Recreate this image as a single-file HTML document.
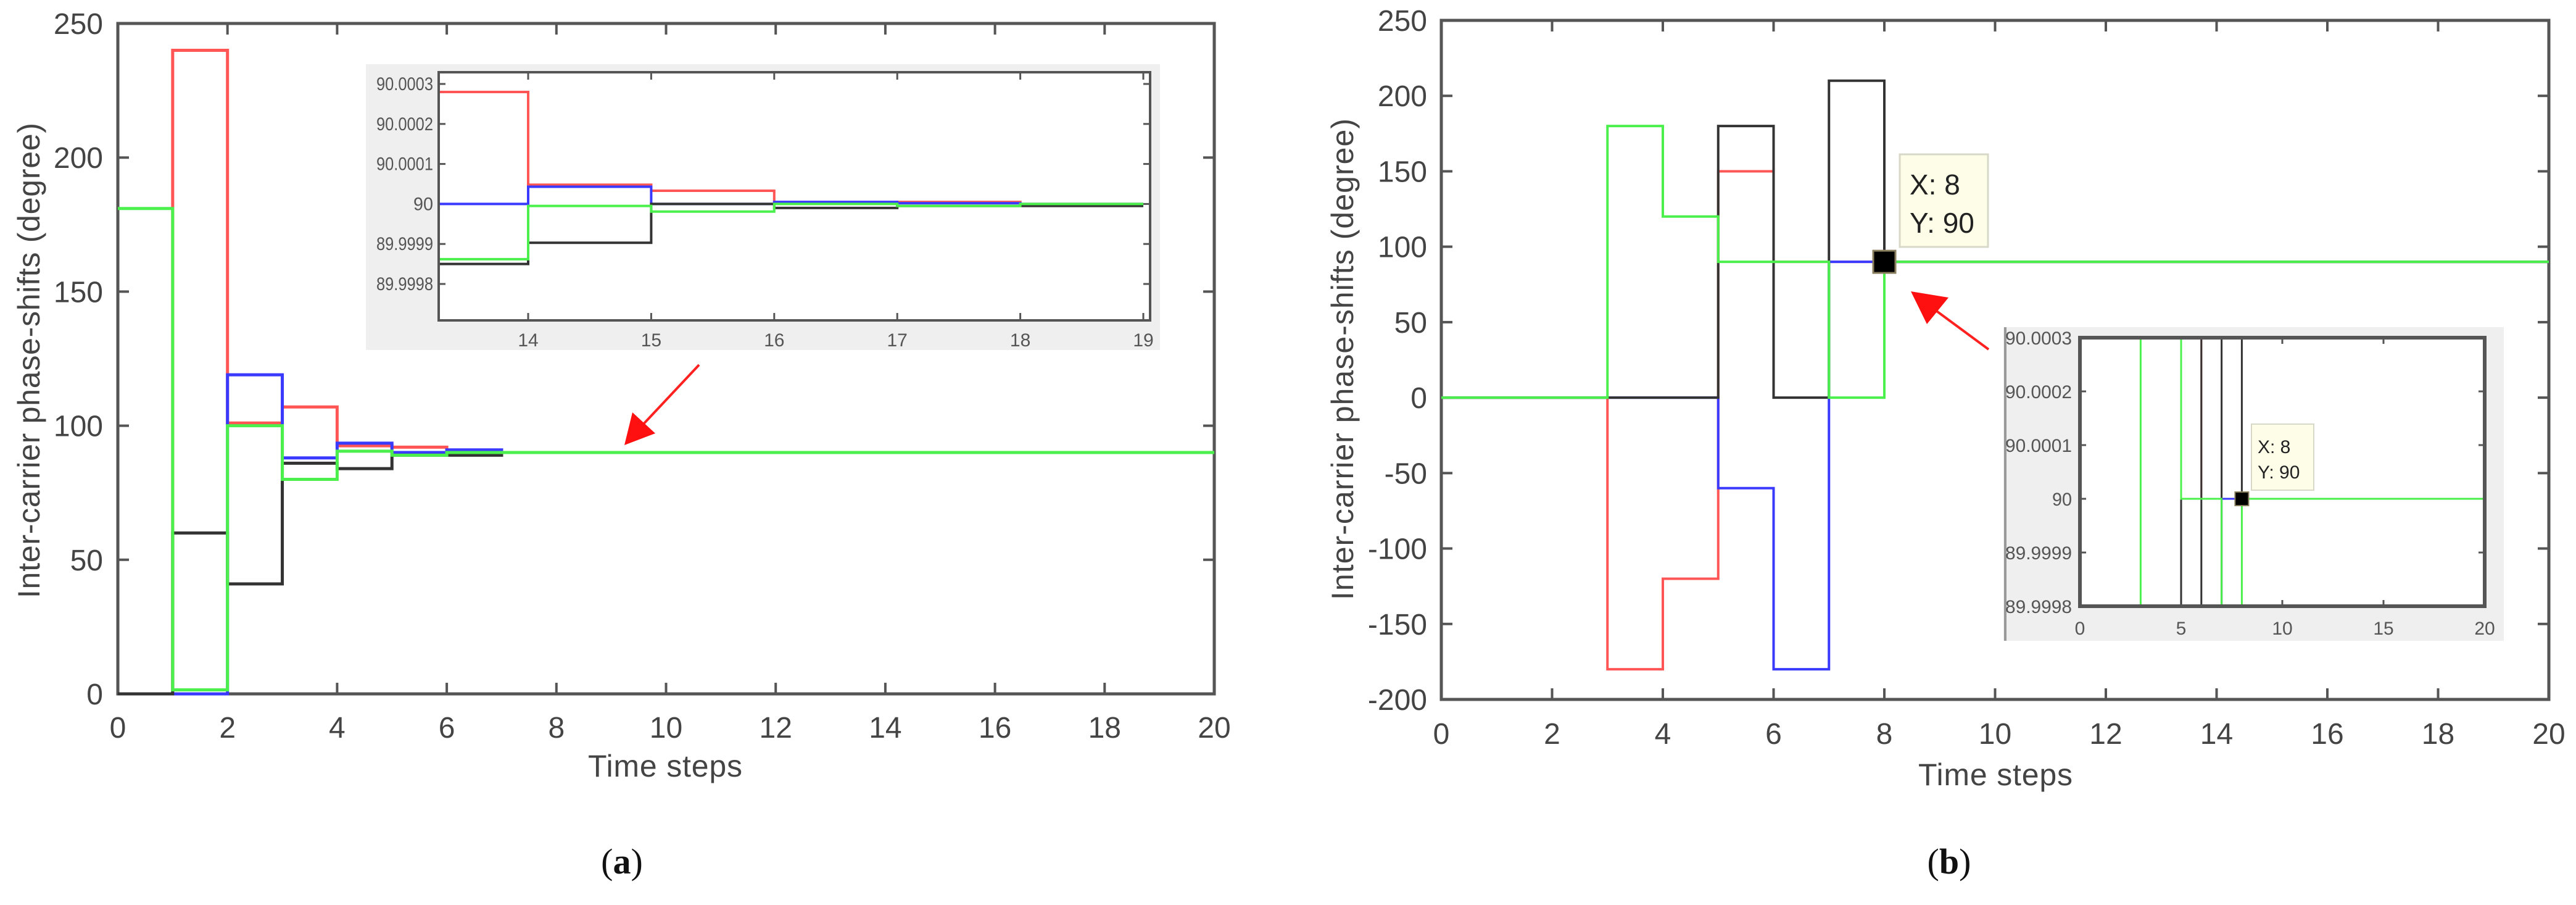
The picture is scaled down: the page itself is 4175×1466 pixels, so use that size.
<!DOCTYPE html>
<html><head><meta charset="utf-8"><style>
html,body{margin:0;padding:0;background:#fff;width:4175px;height:1466px;overflow:hidden;}
svg{display:block;font-family:"Liberation Sans",sans-serif;}
</style></head><body>
<svg id="fig" width="4175" height="1466" viewBox="0 0 4175 1466" xmlns="http://www.w3.org/2000/svg"></svg>
<script>
// ---- Panel (a) data: value held over interval [k, k+1]
const aSteps = [0,1,2,3,4,5,6,7];
const aRed   = [0,240,101,107,92.5,92,90.5,90];
const aBlue  = [0,0,119,88,93.5,90,91,90];
const aBlack = [0,60,41,86,84,89,89,90];
const aGreen = [181,1.5,100,80,90.5,89,90,90];
const aYTicks = [0,50,100,150,200,250];
const aXTicks = [0,2,4,6,8,10,12,14,16,18,20];
// ---- Panel (a) inset data: intervals starting at 13..18
const iaSteps = [13,14,15,16,17,18];
const iaRed   = [90.00028,90.000048,90.000033,90.000003,90.000005,90.0];
const iaBlue  = [90.0,90.000043,90.0,90.000005,90.000002,90.0];
const iaBlack = [89.99985,89.999903,90.0,89.99999,89.999995,89.999995];
const iaGreen = [89.999862,89.999995,89.999981,90.0,89.999995,90.0];
const iaYTicks = [89.9998,89.9999,90,90.0001,90.0002,90.0003];
const iaYLabels = ["89.9998","89.9999","90","90.0001","90.0002","90.0003"];
const iaXTicks = [14,15,16,17,18,19];
// ---- Panel (b) data
const bSteps = [0,1,2,3,4,5,6,7,8];
const bRed   = [0,0,0,-180,-120,150,90,90,90];
const bBlue  = [0,0,0,0,0,-60,-180,90,90];
const bBlack = [0,0,0,0,0,180,0,210,90];
const bGreen = [0,0,0,180,120,90,90,0,90];
const bYTicks = [-200,-150,-100,-50,0,50,100,150,200,250];
const bXTicks = [0,2,4,6,8,10,12,14,16,18,20];
const ibYTicks = [89.9998,89.9999,90,90.0001,90.0002,90.0003];
const ibYLabels = ["89.9998","89.9999","90","90.0001","90.0002","90.0003"];
const ibXTicks = [0,5,10,15,20];
const tipX = 8, tipY = 90;

const NS="http://www.w3.org/2000/svg";
const svg=document.getElementById('fig');
function el(tag,attrs,parent,text){const e=document.createElementNS(NS,tag);for(const k in attrs)e.setAttribute(k,attrs[k]);if(text!==undefined)e.textContent=text;(parent||svg).appendChild(e);return e;}
function scale(d0,d1,r0,r1){return v=>r0+(v-d0)*(r1-r0)/(d1-d0);}
function cscale(d0,d1,r0,r1){const lo=Math.min(r0,r1),hi=Math.max(r0,r1);return v=>Math.max(lo,Math.min(hi,r0+(v-d0)*(r1-r0)/(d1-d0)));}
const COL={red:'#ff5555',blue:'#3a3aff',black:'#333333',green:'#4cf04c'};

function stepPath(steps,vals,xs,ys,xEnd){
  let d='M'+xs(steps[0])+' '+ys(vals[0]);
  for(let i=0;i<steps.length;i++){
    const nx=(i+1<steps.length)?steps[i+1]:xEnd;
    d+=' H'+xs(nx);
    if(i+1<steps.length) d+=' V'+ys(vals[i+1]);
  }
  return d;
}

function axesFrame(g,x0,x1,y0,y1,sw){
  el('rect',{x:x0,y:y0,width:x1-x0,height:y1-y0,fill:'#fff',stroke:'#555','stroke-width':sw},g);
}
function frameOutline(g,x0,x1,y0,y1,sw){
  el('rect',{x:x0,y:y0,width:x1-x0,height:y1-y0,fill:'none',stroke:'#555','stroke-width':sw},g);
}

// =============== PANEL A =================
const ax=scale(0,20,191,1968), ay=scale(0,250,1124,38);
const gA=el('g',{}); 


axesFrame(gA,191,1968,38,1124,5);
aYTicks.forEach(v=>{
  el('line',{x1:191,x2:209,y1:ay(v),y2:ay(v),stroke:'#555','stroke-width':4},gA);
  el('line',{x1:1950,x2:1968,y1:ay(v),y2:ay(v),stroke:'#555','stroke-width':4},gA);
  const t=el('text',{x:167,y:ay(v)+17,'text-anchor':'end','font-size':48,fill:'#444'},gA,String(v));
  
  
});
aXTicks.forEach(v=>{
  el('line',{x1:ax(v),x2:ax(v),y1:1124,y2:1106,stroke:'#555','stroke-width':4},gA);
  el('line',{x1:ax(v),x2:ax(v),y1:38,y2:56,stroke:'#555','stroke-width':4},gA);
  const t=el('text',{x:ax(v),y:1195,'text-anchor':'middle','font-size':48,fill:'#444'},gA,String(v));
  
  
});
[['red',aRed],['blue',aBlue],['black',aBlack],['green',aGreen]].forEach(([c,vals])=>{
  const p=el('path',{d:stepPath(aSteps,vals,ax,ay,20),fill:'none',stroke:COL[c],'stroke-width':5},gA);
  
  
});
let t=el('text',{x:1078,y:1258,'text-anchor':'middle','font-size':50,fill:'#444',textLength:250},gA,'Time steps');


t=el('text',{x:0,y:0,'text-anchor':'middle','font-size':50,fill:'#444',textLength:770,transform:'translate(64,584) rotate(-90)'},gA,'Inter-carrier phase-shifts (degree)');


// arrow a
let ar=el('g',{},gA);


el('line',{x1:1133,y1:591,x2:1040,y2:690,stroke:'#ff2020','stroke-width':4},ar);
el('polygon',{points:'1012,721 1025,668 1062,702',fill:'#ff1010'},ar);
// inset a
const gIA=el('g',{},gA);


el('rect',{x:593,y:104,width:1287,height:463,fill:'#efefef'},gIA);
const iax=scale(14,19,856,1853), iay=scale(89.9998,90.0003,460,136);
const iayc=cscale(89.9998,90.0003,460,136);
axesFrame(gIA,711,1864,117,519,4);
const cpa=el('clipPath',{id:'clipIA'},gIA);
el('rect',{x:711,y:117,width:1153,height:402},cpa);
iaYTicks.forEach((v,i)=>{
  el('line',{x1:711,x2:722,y1:iay(v),y2:iay(v),stroke:'#555','stroke-width':3},gIA);
  el('line',{x1:1853,x2:1864,y1:iay(v),y2:iay(v),stroke:'#555','stroke-width':3},gIA);
  const tt=el('text',{x:702,y:iay(v)+10,'text-anchor':'end','font-size':30,fill:'#555',textLength:iaYLabels[i].length>3?92:32,lengthAdjust:'spacingAndGlyphs'},gIA,iaYLabels[i]);
  
  
});
iaXTicks.forEach(v=>{
  el('line',{x1:iax(v),x2:iax(v),y1:519,y2:507,stroke:'#555','stroke-width':3},gIA);
  el('line',{x1:iax(v),x2:iax(v),y1:117,y2:129,stroke:'#555','stroke-width':3},gIA);
  const tt=el('text',{x:iax(v),y:561,'text-anchor':'middle','font-size':30,fill:'#555'},gIA,String(v));
  
  
});
const gIAl=el('g',{'clip-path':'url(#clipIA)'},gIA);
[['red',iaRed],['blue',iaBlue],['black',iaBlack],['green',iaGreen]].forEach(([c,vals])=>{
  const p=el('path',{d:stepPath(iaSteps,vals,v=>Math.max(711,iax(v)),iayc,19),fill:'none',stroke:COL[c],'stroke-width':4},gIAl);
  
  
});
frameOutline(gIA,711,1864,117,519,4);
t=el('text',{x:1008,y:1415,'text-anchor':'middle','font-size':58,fill:'#111','font-family':'Liberation Serif, serif'},gA);
t.innerHTML='(<tspan font-weight="bold">a</tspan>)';



// =============== PANEL B =================
const bx=scale(0,20,2336,4131), by=scale(-200,250,1133,33);
const gB=el('g',{});


axesFrame(gB,2336,4131,33,1133,5);
bYTicks.forEach(v=>{
  el('line',{x1:2336,x2:2354,y1:by(v),y2:by(v),stroke:'#555','stroke-width':4},gB);
  el('line',{x1:4113,x2:4131,y1:by(v),y2:by(v),stroke:'#555','stroke-width':4},gB);
  const tt=el('text',{x:2313,y:by(v)+17,'text-anchor':'end','font-size':48,fill:'#444'},gB,String(v));
  
  
});
bXTicks.forEach(v=>{
  el('line',{x1:bx(v),x2:bx(v),y1:1133,y2:1115,stroke:'#555','stroke-width':4},gB);
  el('line',{x1:bx(v),x2:bx(v),y1:33,y2:51,stroke:'#555','stroke-width':4},gB);
  const tt=el('text',{x:bx(v),y:1205,'text-anchor':'middle','font-size':48,fill:'#444'},gB,String(v));
  
  
});
[['red',bRed],['blue',bBlue],['black',bBlack],['green',bGreen]].forEach(([c,vals])=>{
  const p=el('path',{d:stepPath(bSteps,vals,bx,by,20),fill:'none',stroke:COL[c],'stroke-width':4},gB);
  
  
});
let m=el('rect',{x:bx(tipX)-18,y:by(tipY)-18,width:36,height:36,fill:'#000',stroke:'#8a8060','stroke-width':3},gB);


let tb=el('g',{},gB);


el('rect',{x:3079,y:250,width:143,height:150,fill:'#fdfde8',stroke:'#d8d8c8','stroke-width':3},tb);
el('text',{x:3095,y:315,'font-size':46,fill:'#222'},tb,'X: 8');
el('text',{x:3095,y:377,'font-size':46,fill:'#222'},tb,'Y: 90');
t=el('text',{x:3234,y:1272,'text-anchor':'middle','font-size':50,fill:'#444',textLength:250},gB,'Time steps');


t=el('text',{x:0,y:0,'text-anchor':'middle','font-size':50,fill:'#444',textLength:780,transform:'translate(2193,582) rotate(-90)'},gB,'Inter-carrier phase-shifts (degree)');


ar=el('g',{},gB);


el('line',{x1:3223,y1:566,x2:3128,y2:496,stroke:'#ff2020','stroke-width':4},ar);
el('polygon',{points:'3097,472 3158,482 3123,525',fill:'#ff1010'},ar);
// inset b
const gIB=el('g',{},gB);


el('rect',{x:3247,y:530,width:811,height:508,fill:'#efefef'},gIB);
el('line',{x1:3250,x2:3250,y1:530,y2:1038,stroke:'#999','stroke-width':4},gIB);
const ibx=scale(0,20,3371,4027), iby=scale(89.9998,90.0003,982,547);
const ibyc=cscale(89.9998,90.0003,982,547);
axesFrame(gIB,3371,4027,547,982,5);
const cpb=el('clipPath',{id:'clipIB'},gIB);
el('rect',{x:3371,y:547,width:656,height:435},cpb);
ibYTicks.forEach((v,i)=>{
  el('line',{x1:3371,x2:3381,y1:iby(v),y2:iby(v),stroke:'#555','stroke-width':3},gIB);
  el('line',{x1:4017,x2:4027,y1:iby(v),y2:iby(v),stroke:'#555','stroke-width':3},gIB);
  const tt=el('text',{x:3358,y:iby(v)+11,'text-anchor':'end','font-size':30,fill:'#555',textLength:ibYLabels[i].length>3?108:32,lengthAdjust:'spacingAndGlyphs'},gIB,ibYLabels[i]);
  
  
});
ibXTicks.forEach(v=>{
  el('line',{x1:ibx(v),x2:ibx(v),y1:982,y2:972,stroke:'#555','stroke-width':3},gIB);
  el('line',{x1:ibx(v),x2:ibx(v),y1:547,y2:557,stroke:'#555','stroke-width':3},gIB);
  const tt=el('text',{x:ibx(v),y:1028,'text-anchor':'middle','font-size':30,fill:'#555'},gIB,String(v));
  
  
});
const gIBl=el('g',{'clip-path':'url(#clipIB)'},gIB);
[['red',bRed],['blue',bBlue],['black',bBlack],['green',bGreen]].forEach(([c,vals])=>{
  const p=el('path',{d:stepPath(bSteps,vals,ibx,ibyc,20),fill:'none',stroke:COL[c],'stroke-width':3},gIBl);
  
  
});
frameOutline(gIB,3371,4027,547,982,6);
m=el('rect',{x:ibx(tipX)-11,y:iby(tipY)-11,width:22,height:22,fill:'#000',stroke:'#8a8060','stroke-width':2},gIB);


tb=el('g',{},gIB);


el('rect',{x:3649,y:687,width:101,height:107,fill:'#fdfde8',stroke:'#d8d8c8','stroke-width':2},tb);
el('text',{x:3659,y:734,'font-size':30,fill:'#222'},tb,'X: 8');
el('text',{x:3659,y:775,'font-size':30,fill:'#222'},tb,'Y: 90');
t=el('text',{x:3159,y:1415,'text-anchor':'middle','font-size':58,fill:'#111','font-family':'Liberation Serif, serif'},gB);
t.innerHTML='(<tspan font-weight="bold">b</tspan>)';


</script>
</body></html>
